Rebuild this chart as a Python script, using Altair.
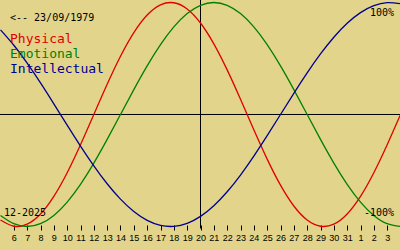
import altair as alt
import pandas as pd

# day index: December day number, January continues as 32, 33, ...
days = list(range(5, 36))
physical = [-0.9423, -0.9977, -0.9791, -0.8880, -0.7308, -0.5197, -0.2698, 0.0,
            0.2698, 0.5197, 0.7308, 0.8880, 0.9791, 0.9977, 0.9423, 0.8170,
            0.6311, 0.3984, 0.1362, -0.1362, -0.3984, -0.6311, -0.8170, -0.9423,
            -0.9977, -0.9791, -0.8880, -0.7308, -0.5197, -0.2698, 0.0]
emotional = [-0.9010, -0.9749, -1.0, -0.9749, -0.9010, -0.7818, -0.6235, -0.4339,
             -0.2225, 0.0, 0.2225, 0.4339, 0.6235, 0.7818, 0.9010, 0.9749,
             1.0, 0.9749, 0.9010, 0.7818, 0.6235, 0.4339, 0.2225, 0.0,
             -0.2225, -0.4339, -0.6235, -0.7818, -0.9010, -0.9749, -1.0]
intellectual = [0.7557, 0.6182, 0.4582, 0.2817, 0.0950, -0.0950, -0.2817, -0.4582,
                -0.6182, -0.7557, -0.8660, -0.9450, -0.9898, -0.9989, -0.9718, -0.9096,
                -0.8146, -0.6901, -0.5406, -0.3717, -0.1893, 0.0, 0.1893, 0.3717,
                0.5406, 0.6901, 0.8146, 0.9096, 0.9718, 0.9989, 0.9898]

tick_days = list(range(6, 35))
tick_labels = [str(d) for d in range(6, 32)] + ["1", "2", "3"]
today = [20]
series_names = ["Physical", "Emotional", "Intellectual"]
series_colors = ["#e00000", "#008000", "#000090"]

rows = []
for name, vals in zip(series_names, [physical, emotional, intellectual]):
    for d, v in zip(days, vals):
        rows.append({"day": d, "value": v, "series": name})
df = pd.DataFrame(rows)

BG = "#e2d48a"
xscale = alt.Scale(domain=[4.9625, 34.9625], nice=False, zero=False)
yscale = alt.Scale(domain=[-1.20982, 1.02232], nice=False, zero=False)

label_arr = "[" + ",".join("'%s'" % s for s in tick_labels) + "]"
xaxis = alt.Axis(values=tick_days, domain=False, grid=False, title=None,
                 tickSize=5, tickColor="black", tickWidth=1, offset=-25,
                 labelPadding=3, labelFontSize=9, labelFont="Liberation Sans",
                 labelColor="black", labelFlush=False, labelOverlap=False,
                 labelExpr=label_arr + "[datum.value - 6]")

lines = alt.Chart(df).mark_line(strokeWidth=1.3, interpolate="natural").encode(
    x=alt.X("day:Q", scale=xscale, axis=xaxis),
    y=alt.Y("value:Q", scale=yscale, axis=None),
    color=alt.Color("series:N", scale=alt.Scale(domain=series_names, range=series_colors),
                    legend=None),
)

zero = alt.Chart(pd.DataFrame({"v": [0.0], "a": [4.9625], "b": [34.9625]})).mark_rule(
    color="black", strokeWidth=1).encode(
    y=alt.Y("v:Q", scale=yscale, axis=None),
    x=alt.X("a:Q", scale=xscale, axis=xaxis), x2="b:Q")

vline = alt.Chart(pd.DataFrame({"d": today, "lo": [-1.0178], "hi": [1.02232]})).mark_rule(
    color="black", strokeWidth=1).encode(
    x=alt.X("d:Q", scale=xscale, axis=xaxis),
    y=alt.Y("lo:Q", scale=yscale, axis=None), y2="hi:Q")

ann_text = ["<-- 23/09/1979", "Physical", "Emotional", "Intellectual",
            "100%", "-100%", "12-2025"]

def txt(i, x, y, size, color="black", align="left"):
    return alt.Chart(pd.DataFrame({"t": [ann_text[i]]})).mark_text(
        font="DejaVu Sans Mono", fontSize=size, color=color, align=align,
        baseline="alphabetic", x=x, y=y).encode(text="t:N")

texts = [
    txt(0, 10, 21, 10),
    txt(1, 10, 43, 13, series_colors[0]),
    txt(2, 10, 58, 13, series_colors[1]),
    txt(3, 10, 73, 13, series_colors[2]),
    txt(4, 394, 16, 10, align="right"),
    txt(5, 394, 216, 10, align="right"),
    txt(6, 4, 216, 10),
]

chart = alt.layer(zero, vline, lines, *texts).properties(
    width=400, height=250, autosize=alt.AutoSizeParams(type="none"),
    padding=0, background=BG,
).configure_view(stroke=None, fill=BG)

chart.save("out.html", embed_options={"renderer": "svg", "actions": False})
